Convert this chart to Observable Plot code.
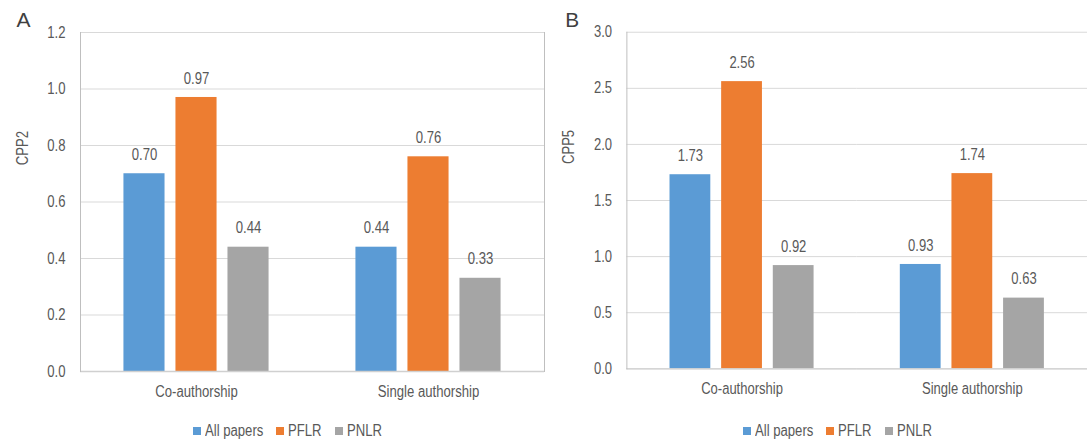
<!DOCTYPE html>
<html>
<head>
<meta charset="utf-8">
<script src="https://cdn.jsdelivr.net/npm/d3@7"></script>
<script src="https://cdn.jsdelivr.net/npm/@observablehq/plot@0.6"></script>
<style>
  body { margin: 0; background: #fff; }
  #wrap { position: relative; width: 1087px; height: 441px; overflow: hidden; background: #fff;
          font-family: "Liberation Sans", Arial, sans-serif; color: #595959; }
  .panel { position: absolute; top: 0; }
  .legend { position: absolute; top: 422px; display: flex; align-items: center; font-size: 16px; color: #595959; white-space: nowrap; }
  .legend .item { display: flex; align-items: center; margin-right: 13px; }
  .legend .sw { width: 8px; height: 8px; margin-right: 4px; }
  .legend .lab { display: inline-block; transform: scaleX(0.82); transform-origin: left center; }
</style>
</head>
<body>
<div id="wrap"></div>
<script>
const groups = ["Co-authorship", "Single authorship"];
const series = ["All papers", "PFLR", "PNLR"];
const colors = ["#5B9BD5", "#ED7D31", "#A5A5A5"];

const cpp2Co = [0.70, 0.97, 0.44];
const cpp2Single = [0.44, 0.76, 0.33];
const cpp5Co = [1.73, 2.56, 0.92];
const cpp5Single = [0.93, 1.74, 0.63];

const cpp2Ticks = [0.0, 0.2, 0.4, 0.6, 0.8, 1.0, 1.2];
const cpp5Ticks = [0.0, 0.5, 1.0, 1.5, 2.0, 2.5, 3.0];

const panelLetters = ["A", "B"];
const yTitles = ["CPP2", "CPP5"];

function rows(co, single) {
  const out = [];
  series.forEach((s, i) => out.push({group: groups[0], series: s, value: co[i]}));
  series.forEach((s, i) => out.push({group: groups[1], series: s, value: single[i]}));
  return out;
}

const FONT = `"Liberation Sans", Arial, sans-serif`;
const NARROW = 0.82;

function panel({data, ticks, letter, title, width, marginLeft, letterDx, rightFrame}) {
  const marks = [
    Plot.ruleY(ticks, {stroke: "#D9D9D9", strokeWidth: 1}),
    Plot.barY(data, {fx: "group", x: "series", y: "value", fill: "series"}),
    Plot.ruleY([0], {stroke: "#D0D0D0", strokeWidth: 1.3}),
    Plot.frame({anchor: "left", facetAnchor: "left", stroke: "#BFBFBF"}),
    Plot.text(data, {fx: "group", x: "series", y: "value", text: d => d3.format(".2f")(d.value),
      dy: -19, fill: "#595959", fontSize: 16, className: "narrow"}),
    Plot.axisY({ticks, tickSize: 0, tickPadding: 15, tickFormat: d3.format(".1f"), label: null,
      fontSize: 16, fill: "#595959", facetAnchor: "left", className: "narrow"}),
    Plot.axisFx({anchor: "bottom", tickSize: 0, tickPadding: 14, label: null, fontSize: 16, fill: "#595959", className: "narrow"}),
    Plot.text([title], {frameAnchor: "left", textAnchor: "middle", lineAnchor: "middle", dx: -58, dy: -54, rotate: -90,
      fill: "#595959", fontSize: 16, facetAnchor: "left", className: "narrow"}),
    Plot.text([letter], {frameAnchor: "top-left", textAnchor: "start", lineAnchor: "middle", dx: letterDx, dy: -12,
      fill: "#404040", fontSize: 21, facetAnchor: "left"})
  ];
  if (rightFrame) marks.push(Plot.frame({anchor: "right", facetAnchor: "right", stroke: "#BFBFBF"}));
  return Plot.plot({
    width, height: 410,
    marginLeft, marginRight: 0, marginTop: 32, marginBottom: 39,
    style: {fontFamily: FONT, fontSize: "16px", color: "#595959", background: "transparent", overflow: "visible"},
    fx: {domain: groups, padding: 0},
    x: {domain: series, paddingInner: 0.21, paddingOuter: 0.835, round: false, axis: null},
    y: {domain: [ticks[0], ticks[ticks.length - 1]], axis: null},
    color: {domain: series, range: colors},
    marks
  });
}

function narrowText(svg) {
  svg.querySelectorAll("[class*='narrow'] text").forEach(t => {
    const L = t.getComputedTextLength();
    if (L > 0) {
      t.setAttribute("textLength", (L * NARROW).toFixed(2));
      t.setAttribute("lengthAdjust", "spacingAndGlyphs");
    }
  });
}

const wrap = document.getElementById("wrap");

const a = panel({data: rows(cpp2Co, cpp2Single), ticks: cpp2Ticks, letter: panelLetters[0], title: yTitles[0],
  width: 544, marginLeft: 79, letterDx: -64, rightFrame: true});
const da = document.createElement("div"); da.className = "panel"; da.style.left = "0px"; da.appendChild(a); wrap.appendChild(da);

const b = panel({data: rows(cpp5Co, cpp5Single), ticks: cpp5Ticks, letter: panelLetters[1], title: yTitles[1],
  width: 547, marginLeft: 83, letterDx: -62, rightFrame: false});
const db = document.createElement("div"); db.className = "panel"; db.style.left = "544px"; db.appendChild(b); wrap.appendChild(db);

narrowText(a);
narrowText(b);

function legend(left) {
  const l = document.createElement("div");
  l.className = "legend"; l.style.left = left + "px";
  const labs = [];
  series.forEach((s, i) => {
    const it = document.createElement("div"); it.className = "item";
    const sw = document.createElement("span"); sw.className = "sw"; sw.style.background = colors[i];
    const t = document.createElement("span"); t.className = "lab"; t.textContent = s;
    it.appendChild(sw); it.appendChild(t); l.appendChild(it);
    labs.push(t);
  });
  wrap.appendChild(l);
  labs.forEach(t => { const w = t.getBoundingClientRect().width; t.style.marginRight = (-(w / NARROW) * (1 - NARROW)).toFixed(2) + "px"; });
}
legend(193);
legend(743);
</script>
</body>
</html>
